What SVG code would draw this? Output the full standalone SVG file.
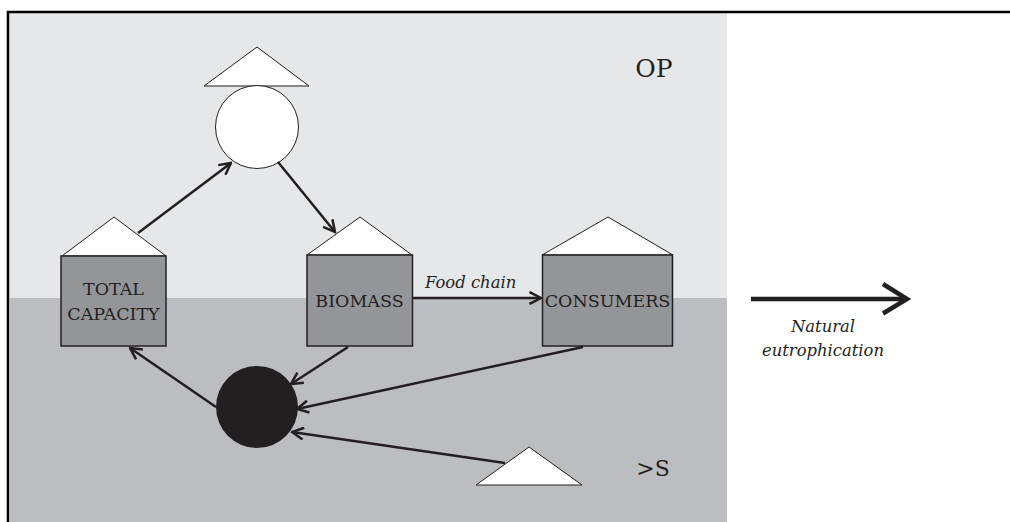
<svg xmlns="http://www.w3.org/2000/svg" width="1010" height="522" viewBox="0 0 1010 522">
<defs>
<style>
.t{font-family:'DejaVu Serif','Liberation Serif',serif;fill:#231f20;}
.lbl{font-size:17.5px;text-anchor:middle;}
.it{font-style:italic;font-size:16.4px;}
.box{fill:#939598;stroke:#231f20;stroke-width:1.5;}
.roof{fill:#ffffff;stroke:#231f20;stroke-width:1;}
.con{fill:none;stroke:#231f20;stroke-width:2.5;marker-end:url(#ah);}
</style>
<marker id="ah" markerUnits="userSpaceOnUse" viewBox="0 0 14 14" markerWidth="14" markerHeight="14" refX="12.5" refY="7" orient="auto">
<path d="M1,1 L12.5,7 L1,13" fill="none" stroke="#231f20" stroke-width="2.5"/>
</marker>
</defs>
<rect x="0" y="0" width="1010" height="522" fill="#ffffff"/>
<g id="background">
<rect x="10" y="13" width="717" height="285" fill="#e6e7e8"/>
<rect x="10" y="298" width="717" height="224" fill="#bcbdc0"/>
<line x1="7" y1="12" x2="1010" y2="12" stroke="#000" stroke-width="2.6"/>
<line x1="8" y1="11" x2="8" y2="522" stroke="#000" stroke-width="2.6"/>
<text class="t" x="654" y="77" font-size="25" text-anchor="middle">OP</text>
<text class="t" x="653" y="476" font-size="22" text-anchor="middle">&gt;S</text>
</g>
<g id="source-top">
<polygon class="roof" points="204,86 257,47 309,86"/>
<circle cx="257" cy="127" r="41.5" fill="#ffffff" stroke="#231f20" stroke-width="1"/>
</g>
<g id="total-capacity">
<polygon class="roof" points="62,256 114,217 166,256"/>
<rect class="box" x="61" y="256" width="105" height="90"/>
<text class="t lbl" x="113.5" y="295">TOTAL</text>
<text class="t lbl" x="113.5" y="320">CAPACITY</text>
</g>
<g id="biomass">
<polygon class="roof" points="307,255 360,217 412,255"/>
<rect class="box" x="307" y="255" width="105.5" height="91"/>
<text class="t lbl" x="359.5" y="307">BIOMASS</text>
</g>
<g id="consumers">
<polygon class="roof" points="542,255 608,217 673,255"/>
<rect class="box" x="542.5" y="255" width="130" height="91"/>
<text class="t lbl" x="607.5" y="307">CONSUMERS</text>
</g>
<g id="sink">
<circle cx="257" cy="407" r="41" fill="#231f20"/>
</g>
<g id="source-bottom">
<polygon class="roof" points="476,485 529,447 582,485"/>
</g>
<g id="connectors">
<line class="con" x1="138" y1="233" x2="231" y2="163"/>
<line class="con" x1="278" y1="162" x2="335" y2="232"/>
<line class="con" x1="413" y1="298" x2="541" y2="298"/>
<line class="con" x1="348" y1="347" x2="291" y2="384"/>
<line class="con" x1="583" y1="347" x2="297" y2="409"/>
<line class="con" x1="505" y1="463" x2="292" y2="432"/>
<line class="con" x1="216" y1="407" x2="130" y2="348"/>
<text class="t it" x="425" y="288">Food chain</text>
</g>
<g id="trend">
<line x1="751" y1="299" x2="905" y2="299" stroke="#231f20" stroke-width="4.5"/>
<path d="M883,284 L907,299 L883,313.5" fill="none" stroke="#231f20" stroke-width="4.5"/>
<text class="t it" x="823" y="332" text-anchor="middle">Natural</text>
<text class="t it" x="823" y="356" text-anchor="middle">eutrophication</text>
</g>
</svg>
